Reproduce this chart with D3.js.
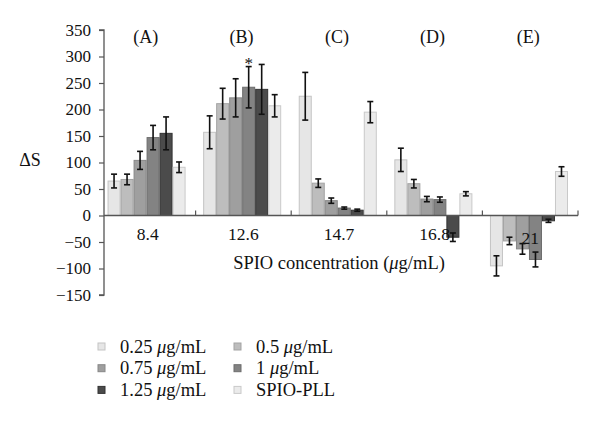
<!DOCTYPE html>
<html><head><meta charset="utf-8">
<script src="https://cdn.jsdelivr.net/npm/d3@7"></script>
<style>body{margin:0;background:#fff}svg{display:block}text{font-family:"Liberation Serif","DejaVu Serif",serif;fill:#111}</style>
</head><body><svg id="c" width="600" height="425"></svg>
<script>
const categories = ["8.4","12.6","14.7","16.8","21"];
const groupLabels = ["(A)","(B)","(C)","(D)","(E)"];
const seriesNames = ["0.25 μg/mL","0.5 μg/mL","0.75 μg/mL","1 μg/mL","1.25 μg/mL","SPIO-PLL"];
const s025 = [65, 157, 225, 105, -95];
const s05  = [68, 211, 61, 60, -48];
const s075 = [104, 222, 28, 31, -63];
const s1   = [147, 242, 14, 30, -83];
const s125 = [155, 238, 10, -41, -10];
const sPLL = [91, 207, 195, 41, 83];
const e025 = [13, 31, 45, 22, 19];
const e05  = [10, 29, 8, 8, 7];
const e075 = [17, 36, 5, 5, 10];
const e1   = [23, 39, 2, 5, 14];
const e125 = [31, 47, 2, 8, 3];
const ePLL = [10, 21, 20, 4, 9];
const yTicks = [350,300,250,200,150,100,50,0,-50,-100,-150];
const fills = ["#e6e6e6","#bdbdbd","#9f9f9f","#838383","#4b4b4b","#ebebeb"];
const strokes = ["#c4c4c4","#a3a3a3","#888","#6d6d6d","#333","#c9c9c9"];

const values = [s025,s05,s075,s1,s125,sPLL];
const errs = [e025,e05,e075,e1,e125,ePLL];

const svg = d3.select("#c");
const x0 = d3.scaleBand().domain(categories).range([100,578]).paddingInner(0).paddingOuter(0);
const x1 = d3.scaleBand().domain(d3.range(6)).range([0,x0.bandwidth()]).paddingInner(0).paddingOuter(0.675).align(0.43);
const y = d3.scaleLinear().domain([-150,350]).range([295,30]);
const axX = 104;

// bars
categories.forEach((c,ci)=>{
  const g = svg.append("g").attr("transform",`translate(${x0(c)},0)`);
  values.forEach((vals,si)=>{
    const v = vals[ci];
    g.append("rect").attr("x",x1(si)+0.5).attr("width",x1.bandwidth()-1)
      .attr("y",Math.min(y(v),y(0))).attr("height",Math.abs(y(v)-y(0)))
      .attr("fill",fills[si]).attr("stroke",strokes[si]).attr("stroke-width",1);
  });
});
// zero axis
svg.append("line").attr("x1",axX).attr("x2",578).attr("y1",y(0)).attr("y2",y(0)).attr("stroke","#555").attr("stroke-width",1.3);
categories.forEach((c,ci)=>{
  const xb = x0(c)+x0.bandwidth();
  svg.append("line").attr("x1",xb).attr("x2",xb).attr("y1",y(0)).attr("y2",y(0)-5).attr("stroke","#555").attr("stroke-width",1.2);
});
// error bars
categories.forEach((c,ci)=>{
  values.forEach((vals,si)=>{
    const v = vals[ci], e = errs[si][ci];
    const cx = x0(c)+x1(si)+x1.bandwidth()/2;
    const g = svg.append("g").attr("stroke","#111").attr("stroke-width",1.6);
    g.append("line").attr("x1",cx).attr("x2",cx).attr("y1",y(v+e)).attr("y2",y(v-e));
    g.append("line").attr("x1",cx-3).attr("x2",cx+3).attr("y1",y(v+e)).attr("y2",y(v+e));
    g.append("line").attr("x1",cx-3).attr("x2",cx+3).attr("y1",y(v-e)).attr("y2",y(v-e));
  });
});
// star
{
  const cx = x0("12.6")+x1(3)+x1.bandwidth()/2;
  svg.append("text").attr("x",cx).attr("y",y(s1[1]+e1[1])+2).attr("text-anchor","middle").attr("font-size",17).text("*");
}
// y axis
const ya = d3.axisLeft(y).tickValues(yTicks).tickSize(5).tickPadding(8).tickFormat(d=>d<0?"\u2212"+(-d):d);
const yg = svg.append("g").attr("transform",`translate(${axX},0)`).call(ya);
yg.select(".domain").attr("stroke","#555").attr("stroke-width",1.3).attr("d",`M-5,${y(350)}H0V${y(-150)}H-5`);
yg.selectAll(".tick line").attr("stroke","#555").attr("stroke-width",1.2);
yg.selectAll(".tick text").attr("font-size",17).attr("fill","#111");
// category labels
categories.forEach((c,ci)=>{
  svg.append("text").attr("x",x0(c)+x0.bandwidth()/2).attr("y",ci===4?244:240).attr("text-anchor","middle").attr("font-size",17.5).text(c);
  svg.append("text").attr("x",x0(c)+x0.bandwidth()/2-2).attr("y",43).attr("text-anchor","middle").attr("font-size",18).text(groupLabels[ci]);
});
// axis titles
svg.append("text").attr("x",30).attr("y",166).attr("text-anchor","middle").attr("font-size",18).text("ΔS");
const xt = svg.append("text").attr("x",339).attr("y",269).attr("text-anchor","middle").attr("font-size",18.5);
xt.append("tspan").text("SPIO concentration (");
xt.append("tspan").attr("font-style","italic").text("μ");
xt.append("tspan").text("g/mL)");
// legend
seriesNames.forEach((n,i)=>{
  const col = i%2, row = Math.floor(i/2);
  const lx = col===0?98:234, ly = 346.5+row*21.7;
  svg.append("rect").attr("x",lx).attr("y",ly-3.5).attr("width",7).attr("height",7).attr("fill",fills[i]).attr("stroke",strokes[i]);
  const t = svg.append("text").attr("x",lx+22).attr("y",ly+6).attr("font-size",18.5);
  const parts = n.split("μ");
  if(parts.length>1){
    t.append("tspan").text(parts[0]);
    t.append("tspan").attr("font-style","italic").text("μ");
    t.append("tspan").text(parts[1]);
  } else t.text(n);
});
</script></body></html>
